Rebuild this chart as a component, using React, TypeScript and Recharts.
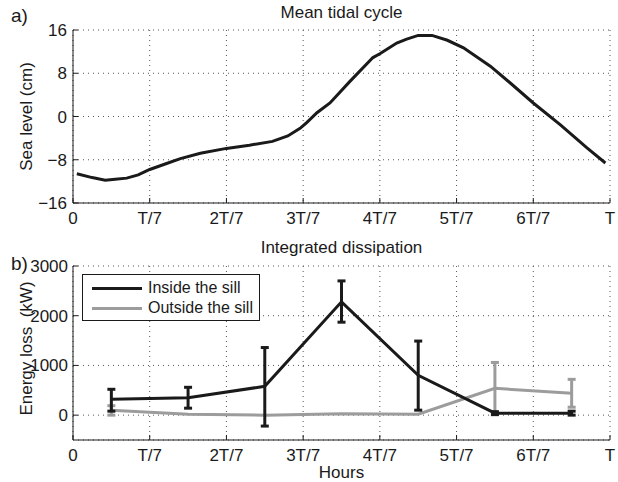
import React from 'react';
import { LineChart, Line, XAxis, YAxis, CartesianGrid, ErrorBar } from 'recharts';

const FONT = '"Liberation Sans", Arial, Helvetica, sans-serif';
const INK = '#1a1a1a';
const GREY = '#9c9c9c';
const FS = 17;

// x axis: hours in units of T/7
const hourTicks = [0, 1, 2, 3, 4, 5, 6, 7];
const hourLabels = ['0', 'T/7', '2T/7', '3T/7', '4T/7', '5T/7', '6T/7', 'T'];

// a) mean tidal cycle
const tideHours = [
  0.05, 0.25, 0.42, 0.55, 0.7, 0.85, 1.0, 1.22, 1.4, 1.66, 2.0, 2.3, 2.6, 2.8, 2.96, 3.05, 3.18,
  3.35, 3.61, 3.91, 4.0, 4.22, 4.35, 4.5, 4.68, 4.88, 5.09, 5.44, 5.7, 6.0, 6.35, 6.7, 6.94,
];
const tideLevel = [
  -10.6, -11.3, -11.8, -11.6, -11.4, -10.8, -9.8, -8.7, -7.8, -6.8, -5.9, -5.3, -4.6, -3.6, -2.2,
  -1.1, 0.7, 2.5, 6.5, 10.9, 11.6, 13.6, 14.3, 15.0, 15.0, 14.1, 12.7, 9.3, 6.2, 2.5, -1.5, -5.8,
  -8.6,
];
const levelTicks = [-16, -8, 0, 8, 16];

// b) integrated dissipation
const sampleHours = [0.5, 1.5, 2.5, 3.5, 4.5, 5.5, 6.5];
const insideLoss = [320, 350, 580, 2280, 800, 40, 40];
const insideLow = [80, 140, -220, 1870, 100, 10, 0];
const insideHigh = [520, 560, 1360, 2700, 1490, 70, 80];
const outsideLoss = [100, 20, 0, 30, 20, 540, 440];
const outsideLow = [0, null, null, null, null, 30, 160];
const outsideHigh = [190, null, null, null, null, 1060, 720];
const lossTicks = [0, 1000, 2000, 3000];

const tideData = tideHours.map((h, i) => ({ h, level: tideLevel[i] }));

const errOf = (v: number, lo: number | null, hi: number | null) =>
  lo == null || hi == null ? null : [v - lo, hi - v];

const lossData = sampleHours.map((h, i) => ({
  h,
  inside: insideLoss[i],
  insideErr: errOf(insideLoss[i], insideLow[i], insideHigh[i]),
  outside: outsideLoss[i],
  outsideErr: errOf(outsideLoss[i], outsideLow[i], outsideHigh[i]),
}));

const tick = { fill: INK, fontSize: FS, fontFamily: FONT };
const minus = (v: number) => String(v).replace('-', '\u2212');
const hourLabel = (v: number) => hourLabels[hourTicks.indexOf(v)];
const blank = () => '';

const label = (style: React.CSSProperties, text: string) => (
  <div
    style={{
      position: 'absolute',
      fontFamily: FONT,
      fontSize: FS,
      lineHeight: '17px',
      color: INK,
      whiteSpace: 'pre',
      ...style,
    }}
  >
    {text}
  </div>
);

export default function App() {
  return (
    <div style={{ position: 'absolute', left: 0, top: 0, width: 618, height: 482, background: '#fff' }}>
      <div style={{ position: 'absolute', left: 0, top: 0 }}>
        <LineChart width={618} height={240} data={tideData} margin={{ top: 30, right: 8, left: 33, bottom: 7 }}>
          <CartesianGrid stroke="#555" strokeDasharray="1 4" />
          <XAxis
            dataKey="h"
            type="number"
            domain={[0, 7]}
            ticks={hourTicks}
            tickFormatter={hourLabel}
            height={30}
            tick={tick}
            tickSize={-5}
            tickMargin={14}
            stroke={INK}
            interval={0}
          />
          <XAxis xAxisId="top" orientation="top" dataKey="h" type="number" domain={[0, 7]} ticks={hourTicks}
            height={0} tickSize={-5} tickFormatter={blank} stroke={INK} interval={0} />
          <YAxis
            type="number"
            domain={[-16, 16]}
            ticks={levelTicks}
            tickFormatter={minus}
            width={40}
            tick={tick}
            tickSize={-5}
            tickMargin={11}
            stroke={INK}
            interval={0}
          />
          <YAxis yAxisId="right" orientation="right" type="number" domain={[-16, 16]} ticks={levelTicks}
            width={0} tickSize={-5} tickFormatter={blank} stroke={INK} interval={0} />
          <Line dataKey="level" stroke={INK} strokeWidth={3} dot={false} isAnimationActive={false} />
        </LineChart>
      </div>
      <div style={{ position: 'absolute', left: 0, top: 240 }}>
        <LineChart width={618} height={242} data={lossData} margin={{ top: 26, right: 8, left: 33, bottom: 12 }}>
          <CartesianGrid stroke="#555" strokeDasharray="1 4" />
          <XAxis
            dataKey="h"
            type="number"
            domain={[0, 7]}
            ticks={hourTicks}
            tickFormatter={hourLabel}
            height={30}
            tick={tick}
            tickSize={-5}
            tickMargin={14}
            stroke={INK}
            interval={0}
          />
          <XAxis xAxisId="top" orientation="top" dataKey="h" type="number" domain={[0, 7]} ticks={hourTicks}
            height={0} tickSize={-5} tickFormatter={blank} stroke={INK} interval={0} />
          <YAxis
            type="number"
            domain={[-500, 3000]}
            ticks={lossTicks}
            width={40}
            tick={tick}
            tickSize={-5}
            tickMargin={10}
            stroke={INK}
            interval={0}
            allowDataOverflow
          />
          <YAxis yAxisId="right" orientation="right" type="number" domain={[-500, 3000]} ticks={lossTicks}
            width={0} tickSize={-5} tickFormatter={blank} stroke={INK} interval={0} />
          <Line dataKey="outside" stroke={GREY} strokeWidth={3} dot={false} isAnimationActive={false}>
            <ErrorBar dataKey="outsideErr" direction="y" width={4} stroke={GREY} strokeWidth={3} />
          </Line>
          <Line dataKey="inside" stroke={INK} strokeWidth={3} dot={false} isAnimationActive={false}>
            <ErrorBar dataKey="insideErr" direction="y" width={4} stroke={INK} strokeWidth={3} />
          </Line>
        </LineChart>
      </div>

      {label({ left: 11, top: 7, fontSize: 19 }, 'a)')}
      {label({ left: 11, top: 255, fontSize: 19 }, 'b)')}
      {label({ left: 73, width: 537, top: 4, textAlign: 'center' }, 'Mean tidal cycle')}
      {label({ left: 73, width: 537, top: 239, textAlign: 'center' }, 'Integrated dissipation')}
      {label({ left: 73, width: 537, top: 464, textAlign: 'center' }, 'Hours')}
      {label({ left: 26 - 100, width: 200, top: 116 - 8, textAlign: 'center', transform: 'rotate(-90deg)' }, 'Sea level (cm)')}
      {label({ left: 26 - 100, width: 200, top: 348 - 8, textAlign: 'center', transform: 'rotate(-90deg)' }, 'Energy loss  (kW)')}

      <div
        style={{
          position: 'absolute',
          left: 82,
          top: 274,
          width: 176,
          height: 45,
          border: `1px solid ${INK}`,
          background: '#fff',
          fontFamily: FONT,
          fontSize: 16,
          color: INK,
          whiteSpace: 'nowrap',
        }}
      >
        <div style={{ position: 'absolute', left: 9, top: 12, width: 50, height: 3, background: INK }} />
        <div style={{ position: 'absolute', left: 65, top: 5, lineHeight: '16px' }}>Inside the sill</div>
        <div style={{ position: 'absolute', left: 9, top: 32, width: 50, height: 3, background: GREY }} />
        <div style={{ position: 'absolute', left: 65, top: 25, lineHeight: '16px' }}>Outside the sill</div>
      </div>
    </div>
  );
}
